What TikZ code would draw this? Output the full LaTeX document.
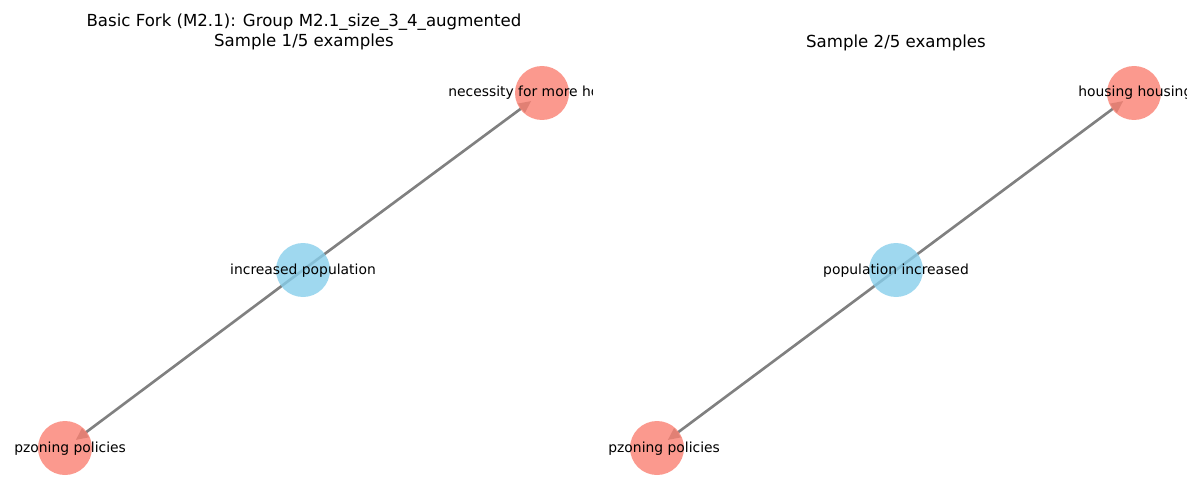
\documentclass[tikz,border=0pt]{standalone}
\usepackage{fontspec}
\setmainfont{DejaVu Sans}
\usetikzlibrary{arrows.meta}
\definecolor{salmon}{HTML}{FA8072}
\definecolor{skyblue}{HTML}{87CEEB}
\definecolor{edgegray}{HTML}{808080}
\newlength{\pxu}
\setlength{\pxu}{0.02cm}
\tikzset{
  effect/.style={circle, fill=salmon, fill opacity=0.8, draw=none, minimum size=54\pxu, inner sep=0pt},
  cause/.style={circle, fill=skyblue, fill opacity=0.8, draw=none, minimum size=54\pxu, inner sep=0pt},
  edge/.style={draw=edgegray, line width=1.5pt, -{Triangle[length=7pt,width=6.2pt]}, shorten >=7.6pt},
  lbl/.style={font=\fontsize{7.9}{9}\selectfont, text=black, inner sep=0pt},
  ttl/.style={font=\fontsize{9.45}{11.5}\selectfont, align=center, inner sep=0pt},
}
\begin{document}
\begin{tikzpicture}[x=0.02cm,y=-0.02cm]
\useasboundingbox (0,0) rectangle (1200,500);
% titles
\node[ttl] (t1) at (304,32) {Basic Fork (M2.1): Group M2.1\_size\_3\_4\_augmented\\Sample 1/5 examples};
\node[ttl] (t2) at (896,43) {Sample 2/5 examples};
% node coordinates
\coordinate (aC) at (303,270);
\coordinate (aT) at (542,93);
\coordinate (aB) at (65,448);
\coordinate (bC) at (896,270);
\coordinate (bT) at (1134,93);
\coordinate (bB) at (657,448);
% edges (under nodes)
\draw[edge] (aC) -- (aT);
\draw[edge] (aC) -- (aB);
\draw[edge] (bC) -- (bT);
\draw[edge] (bC) -- (bB);
% nodes
\node[effect] (a1) at (aT) {};
\node[cause] (a2) at (aC) {};
\node[effect] (a3) at (aB) {};
\node[effect] (b1) at (bT) {};
\node[cause] (b2) at (bC) {};
\node[effect] (b3) at (bB) {};
% labels, clipped to the axes
\begin{scope}
\clip (13,0) rectangle (592,500);
\node[lbl, anchor=base west] (la1) at (448,97) {necessity for more ho};
\node[lbl] (la2) at (303,271) {increased population};
\node[lbl, anchor=base west] (la3) at (14,452) {pzoning policies};
\end{scope}
\begin{scope}
\clip (607,0) rectangle (1186,500);
\node[lbl, anchor=base west] (lb1) at (1078,97) {housing housing};
\node[lbl] (lb2) at (896,271) {population increased};
\node[lbl, anchor=base west] (lb3) at (608,452) {pzoning policies};
\end{scope}
\end{tikzpicture}
\end{document}
